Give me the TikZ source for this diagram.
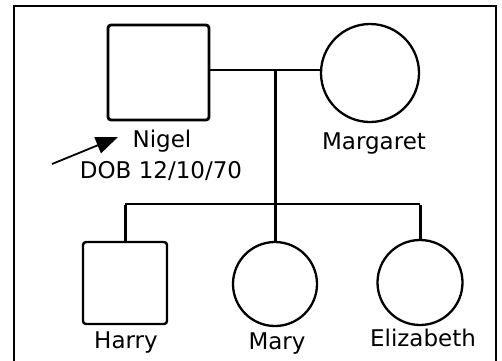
\documentclass[tikz,border=0pt]{standalone}
\usepackage{fontspec}
\setmainfont{DejaVu Sans}
\usetikzlibrary{arrows.meta}
\tikzset{
  male/.style={draw, line width=2.8pt, rounded corners=3pt, inner sep=0pt},
  female/.style={draw, circle, line width=2.3pt, inner sep=0pt},
  link/.style={line width=2.4pt},
  vlink/.style={line width=3pt},
  lbl/.style={anchor=base, inner sep=0pt, font=\fontsize{23}{26}\selectfont},
}
\begin{document}
\begin{tikzpicture}[x=1pt,y=-1pt]
\useasboundingbox (0,0) rectangle (502,360);
\fill[white] (0,0) rectangle (502,360);
\draw[line width=2pt] (14,362) -- (14,6) -- (496,6) -- (496,362);
% parents
\node[male, minimum width=101pt, minimum height=95pt] (nigel) at (158.5,72.5) {};
\node[female, minimum size=98pt] (margaret) at (370,73) {};
% children
\node[male, line width=2.4pt, minimum width=84pt, minimum height=82pt] (harry) at (125,283) {};
\node[female, minimum size=84pt] (mary) at (275,284) {};
\node[female, minimum size=85pt] (elizabeth) at (420,282.5) {};
% labels
\node[lbl] (nigelname) at (162,147) {Nigel};
\node[lbl] (nigeldob) at (161,178) {DOB 12/10/70};
\node[lbl] (margname) at (374,149) {Margaret};
\node[lbl] (harryname) at (126,348) {Harry};
\node[lbl] (maryname) at (277,349) {Mary};
\node[lbl] (elizname) at (423,346) {Elizabeth};
% connectors
\coordinate (mid) at (275,70);
\coordinate (sib) at (275,204);
\coordinate (sibL) at (125,204);
\coordinate (sibR) at (420,204);
\draw[link] (nigel.east |- mid) -- (margaret.west |- mid);
\draw[vlink] (mid) -- (sib);
\draw[link] (sibL) -- (sibR);
\draw[vlink] ([yshift=-1.2pt]sibL) -- (harry.north);
\draw[vlink] (sib) -- (mary.north);
\draw[vlink] ([yshift=-1.2pt]sibR) -- (elizabeth.north);
% arrow
\coordinate (arrtail) at (52,164);
\coordinate (arrhead) at (118,137);
\draw[line width=1.8pt, -{Triangle[length=22pt, width=17pt]}] (arrtail) -- (arrhead);
\end{tikzpicture}
\end{document}
